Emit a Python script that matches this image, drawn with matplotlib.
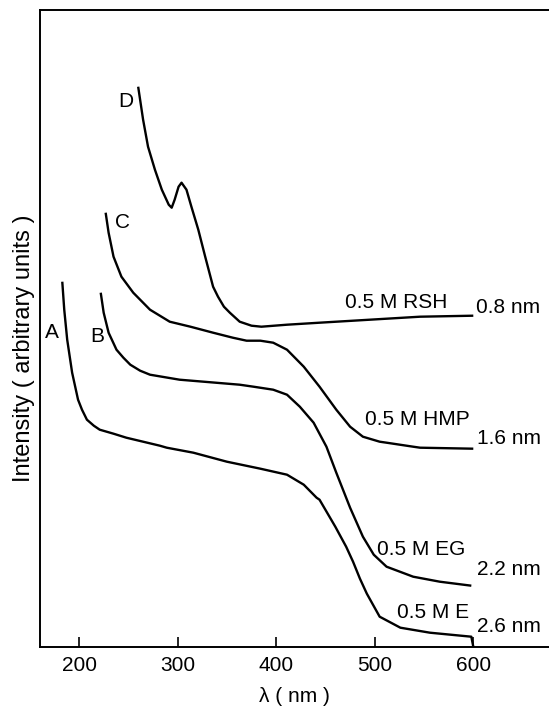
import matplotlib
matplotlib.use("Agg")
import matplotlib.pyplot as plt

plt.rcParams['font.family'] = ['Liberation Sans', 'DejaVu Sans']

# Curve D (0.5 M RSH, 0.8 nm)
d_x = [260, 265, 270, 277, 284, 291, 294, 297, 301, 304, 309, 314, 321, 328, 336, 341, 347, 353, 363, 375, 385, 411, 444, 478, 512, 546, 600]
d_y = [560, 527, 500, 477, 457, 442, 439, 447, 460, 464, 457, 440, 417, 390, 360, 350, 340, 334, 325, 321, 320, 322, 324, 326, 328, 330, 331]

# Curve C (0.5 M HMP, 1.6 nm)
c_x = [227, 230, 235, 243, 255, 272, 292, 313, 336, 356, 370, 384, 397, 411, 428, 444, 461, 475, 488, 505, 512, 539, 546, 600]
c_y = [434, 414, 390, 370, 354, 337, 325, 320, 314, 309, 306, 306, 304, 297, 280, 260, 237, 220, 210, 205, 204, 200, 199, 198]

# Curve B (0.5 M EG, 2.2 nm)
b_x = [222, 225, 230, 238, 245, 252, 262, 272, 302, 363, 377, 397, 411, 424, 438, 451, 461, 465, 475, 488, 499, 512, 539, 566, 598]
b_y = [354, 334, 314, 297, 289, 282, 276, 272, 267, 262, 260, 257, 252, 240, 224, 200, 174, 164, 139, 110, 92, 80, 70, 65, 61]

# Curve A (0.5 M E, 2.6 nm)
a_x = [183, 185, 188, 193, 199, 203, 208, 215, 221, 235, 248, 282, 289, 316, 350, 384, 411, 428, 441, 444, 460, 471, 478, 485, 492, 505, 526, 556, 598, 600]
a_y = [365, 337, 307, 274, 247, 237, 227, 221, 217, 213, 209, 201, 199, 194, 185, 178, 172, 162, 149, 147, 120, 100, 85, 68, 53, 30, 19, 14, 10, 0]

letters = ['A', 'B', 'C', 'D']
letter_x = [172.6, 218.3, 244.6, 247.7]
letter_y = [314.5, 310, 424, 545]

solvents = ['0.5 M RSH', '0.5 M HMP', '0.5 M EG', '0.5 M E']
solvent_x = [469.8, 490, 502, 522.2]
solvent_y = [344, 227, 97, 34.5]

sizes = ['0.8 nm', '1.6 nm', '2.2 nm', '2.6 nm']
size_x = [602.6, 603.3, 603.3, 603.3]
size_y = [339, 208, 77, 20]

xticks = [200, 300, 400, 500, 600]

W, H = 549, 707
fig = plt.figure(figsize=(W / 100, H / 100), dpi=100)
ax = fig.add_axes([40 / W, (H - 646.7) / H, (W - 40) / W, (646.7 - 10) / H])

lw = 1.7
for xs, ys in [(d_x, d_y), (c_x, c_y), (b_x, b_y), (a_x, a_y)]:
    ax.plot(xs, ys, color='black', lw=lw, solid_joinstyle='round', solid_capstyle='butt')

fs = 15
for t, x, y in zip(letters, letter_x, letter_y):
    ax.text(x, y, t, fontsize=fs, ha='center', va='center')
for t, x, y in zip(solvents, solvent_x, solvent_y):
    ax.text(x, y, t, fontsize=fs, ha='left', va='center')
for t, x, y in zip(sizes, size_x, size_y):
    ax.text(x, y, t, fontsize=fs, ha='left', va='center')

ax.set_xlim(160.4, 676.8)
ax.set_ylim(0, 636.7)
ax.set_xticks(xticks)
ax.set_xticklabels([str(v) for v in xticks], fontsize=fs)
ax.set_yticks([])
ax.tick_params(axis='x', direction='in', length=7.5, width=1.2, pad=7)
ax.spines['right'].set_visible(False)
for s in ['left', 'bottom', 'top']:
    ax.spines[s].set_linewidth(1.4)

fig.text(24 / W, 1 - 348 / H, 'Intensity ( arbitrary units )', rotation=90,
         ha='center', va='center', fontsize=17)
fig.text(294 / W, 1 - 697 / H, 'λ ( nm )', ha='center', va='center', fontsize=fs)

fig.savefig('out.png', dpi=100)
